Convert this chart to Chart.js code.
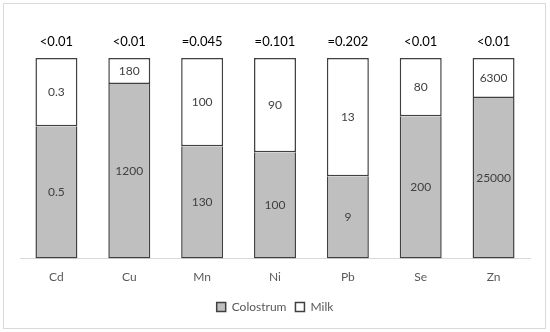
<!DOCTYPE html>
<html lang="en">
<head>
    <meta charset="UTF-8">
    <title>Colostrum vs Milk</title>
    <script src="https://cdn.jsdelivr.net/npm/chart.js"></script>
    <style>
        body { margin: 0; background: #fff; }
        #wrap { width: 550px; height: 332px; }
    </style>
</head>
<body>
    <div id="wrap"><canvas id="elemChart" width="550" height="332"></canvas></div>
    <script>
        const elements = ['Cd', 'Cu', 'Mn', 'Ni', 'Pb', 'Se', 'Zn'];
        // share of each bar (percent)
        const colostrumShare = [66, 87, 56, 53, 41, 71, 80];
        const milkShare = [34, 13, 44, 47, 59, 29, 20];
        // numbers printed inside the segments
        const colostrumText = ['0.5', '1200', '130', '100', '9', '200', '25000'];
        const milkText = ['0.3', '180', '100', '90', '13', '80', '6300'];
        // p-values above the bars
        const pText = ['<0.01', '<0.01', '=0.045', '=0.101', '=0.202', '<0.01', '<0.01'];

        const fontFam = 'Lato, "Open Sans", sans-serif';

        const labelPlugin = {
            id: 'labelPlugin',
            beforeDraw(chart) {
                const ctx = chart.ctx;
                ctx.save();
                ctx.strokeStyle = '#d9d9d9';
                ctx.lineWidth = 1;
                ctx.strokeRect(3.5, 3.5, 542, 325);
                ctx.restore();
            },
            afterDatasetsDraw(chart) {
                const ctx = chart.ctx;
                const texts = [colostrumText, milkText];
                ctx.save();
                ctx.textAlign = 'center';
                ctx.textBaseline = 'middle';
                ctx.font = '12px ' + fontFam;
                ctx.fillStyle = '#404040';
                chart.data.datasets.forEach((ds, di) => {
                    chart.getDatasetMeta(di).data.forEach((bar, i) => {
                        const mid = (bar.y + bar.base) / 2;
                        ctx.fillText(texts[di][i], bar.x, mid);
                    });
                });
                ctx.font = '13px ' + fontFam;
                ctx.fillStyle = '#000';
                const top = chart.getDatasetMeta(1).data;
                top.forEach((bar, i) => {
                    ctx.fillText(pText[i], bar.x, bar.y - 16);
                });
                ctx.restore();
            }
        };

        const ctx = document.getElementById('elemChart').getContext('2d');
        new Chart(ctx, {
            type: 'bar',
            data: {
                labels: elements,
                datasets: [{
                    label: 'Colostrum',
                    data: colostrumShare,
                    backgroundColor: '#bfbfbf',
                    borderColor: '#404040',
                    borderWidth: 1.5,
                    borderSkipped: 'top'
                }, {
                    label: 'Milk',
                    data: milkShare,
                    backgroundColor: '#ffffff',
                    borderColor: '#404040',
                    borderWidth: 1.5,
                    borderSkipped: false
                }]
            },
            options: {
                responsive: false,
                animation: false,
                layout: {
                    padding: { left: 20, right: 20, top: 58, bottom: 9 }
                },
                datasets: {
                    bar: { categoryPercentage: 1, barPercentage: 0.576 }
                },
                plugins: {
                    legend: {
                        position: 'bottom',
                        labels: {
                            boxWidth: 9,
                            boxHeight: 9,
                            color: '#595959',
                            font: { family: fontFam, size: 12 },
                            padding: 9
                        }
                    },
                    tooltip: { enabled: false }
                },
                scales: {
                    x: {
                        stacked: true,
                        grid: { display: false },
                        border: { color: '#d9d9d9' },
                        ticks: {
                            color: '#595959',
                            font: { family: fontFam, size: 12 },
                            padding: 3
                        },
                        afterFit(axis) {
                            axis.height += 5;
                        }
                    },
                    y: {
                        stacked: true,
                        display: false,
                        min: 0,
                        max: 100
                    }
                }
            },
            plugins: [labelPlugin]
        });
    </script>
</body>
</html>
